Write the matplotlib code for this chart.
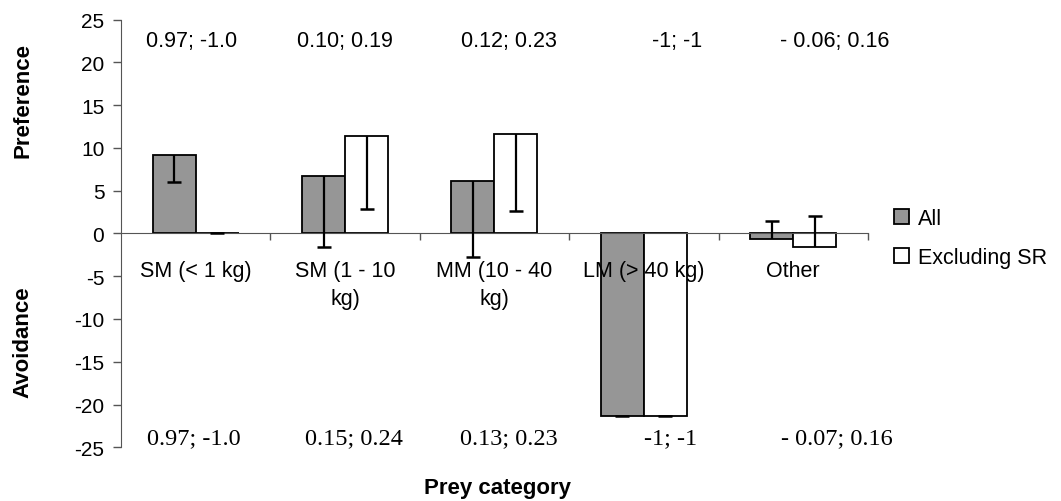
import matplotlib
matplotlib.use("Agg")
import matplotlib.pyplot as plt
import numpy as np

# ---- data ----
categories = ["SM (< 1 kg)", "SM (1 - 10\nkg)", "MM (10 - 40\nkg)",
              "LM (> 40 kg)", "Other"]
all_vals = [9.2, 6.75, 6.15, -21.3, -0.65]
excl_vals = [0.0, 11.4, 11.6, -21.3, -1.6]
# where each (one-sided) error bar ends
all_err_end = [6.0, -1.6, -2.7, -21.3, 1.5]
excl_err_end = [0.0, 2.85, 2.65, -21.3, 2.05]

top_notes = ["0.97; -1.0", "0.10; 0.19", "0.12; 0.23", "-1; -1", "- 0.06; 0.16"]
bottom_notes = ["0.97; -1.0", "0.15; 0.24", "0.13; 0.23", "-1; -1", "- 0.07; 0.16"]

plt.rcParams['font.family'] = ['Liberation Sans', 'DejaVu Sans']
plt.rcParams['axes.unicode_minus'] = False

fig = plt.figure(figsize=(10.61, 5.02), dpi=100)
ax = fig.add_axes([0.114, 0.107, 0.704, 0.852])
ax.set_axisbelow(False)

x = np.arange(len(categories))
w = 0.288
gray = "#969696"
ax_col = "#555555"

ax.bar(x - w / 2, all_vals, w, color=gray, edgecolor="black", linewidth=1.3,
       label="All", zorder=2)
ax.bar(x + w / 2, excl_vals, w, color="white", edgecolor="black", linewidth=1.3,
       label="Excluding SR", zorder=2)

# error bars: a line from the bar end plus a cap at the far end only
for xs, v, e in [(x - w / 2, all_vals, all_err_end), (x + w / 2, excl_vals, excl_err_end)]:
    ax.vlines(xs, v, e, color="black", linewidth=1.6, zorder=3)
    ax.plot(xs, e, linestyle="none", marker="_", markersize=9.5,
            markeredgewidth=1.8, color="black", zorder=3)

ax.set_xlim(-0.5, len(categories) - 0.5)
ax.set_ylim(-25, 25)
ax.set_yticks(np.arange(-25, 26, 5))
ax.tick_params(axis="y", labelsize=15, length=6, width=1, color=ax_col, pad=6)

# boundary ticks on the zero line; category names written just below it
ax.set_xticks(np.arange(len(categories)) + 0.5)
ax.set_xticklabels([])
ax.tick_params(axis="x", length=5, width=1, color=ax_col)
for xi, name in zip(x, categories):
    ax.annotate(name, (xi, 0), xytext=(0, -19), textcoords="offset points",
                ha="center", va="top", fontsize=15.5, linespacing=1.45,
                zorder=4)

ax.spines["bottom"].set_position(("data", 0))
ax.spines["bottom"].set_color(ax_col)
ax.spines["left"].set_color(ax_col)
ax.spines["top"].set_visible(False)
ax.spines["right"].set_visible(False)

# note positions (category offsets) as laid out in the original
top_x = [-0.03, 1.0, 2.1, 3.22, 4.28]
bot_x = [-0.01, 1.06, 2.1, 3.18, 4.29]
for xi, t in zip(top_x, top_notes):
    ax.text(xi, 22.5, t, ha="center", va="center", fontsize=15.5,
            family=["Liberation Sans"])
for xi, t in zip(bot_x, bottom_notes):
    ax.text(xi, -23.9, t, ha="center", va="center", fontsize=17.5,
            family=["Liberation Serif"])

fig.text(23 / 1061, 1 - 100 / 502, "Preference", rotation=90, ha="center",
         va="center", fontsize=16, fontweight="bold")
fig.text(23 / 1061, 1 - 342 / 502, "Avoidance", rotation=90, ha="center",
         va="center", fontsize=16, fontweight="bold")
fig.text(497 / 1061, 1 - 489 / 502, "Prey category", ha="center",
         va="center", fontsize=16, fontweight="bold")

ax.legend(loc="upper left", bbox_to_anchor=(894 / 1061, 1 - 209 / 502),
          bbox_transform=fig.transFigure, frameon=False, fontsize=15.5,
          handlelength=0.7, handleheight=0.7, handletextpad=0.4,
          labelspacing=0.85, borderpad=0, borderaxespad=0)

fig.savefig("out.png", dpi=100)
